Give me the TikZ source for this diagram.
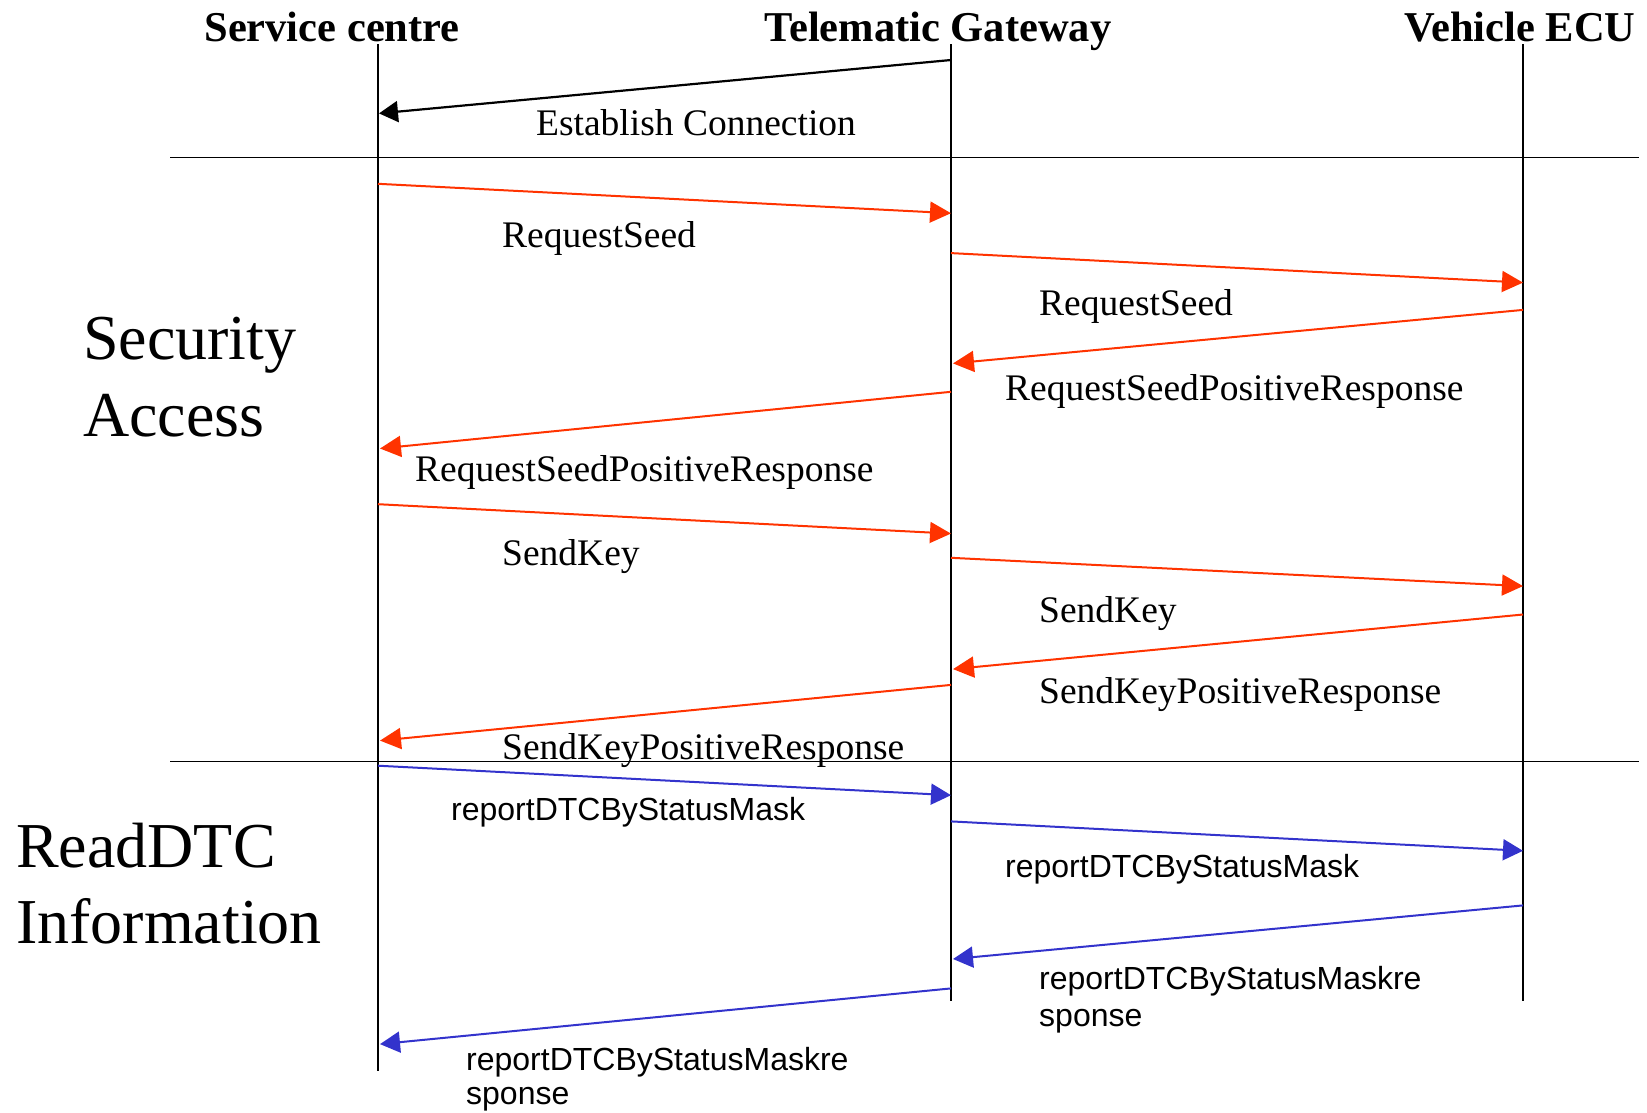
\documentclass[tikz,border=0pt]{standalone}
\usepackage{fontspec}
\setmainfont{Liberation Serif}
\newfontfamily\arialfont{Liberation Sans}
\usetikzlibrary{arrows.meta}
\definecolor{msgred}{HTML}{FF3300}
\definecolor{msgblue}{HTML}{3333CC}
\begin{document}
\begin{tikzpicture}[x=1pt,y=-1pt,
  lifeline/.style={line width=1.5pt,black},
  sepline/.style={line width=1.6pt,black},
  msgblack/.style={line width=2.2pt,black,-{Triangle[length=19pt,width=21pt]}},
  msgr/.style={line width=2pt,msgred,-{Triangle[length=21pt,width=21pt]}},
  msgb/.style={line width=2pt,msgblue,-{Triangle[length=20pt,width=21pt]}},
  header/.style={anchor=base,inner sep=0pt,font=\fontsize{42.5}{48}\selectfont\bfseries},
  lbl/.style={anchor=base west,inner sep=0pt,font=\fontsize{37.5}{44}\selectfont},
  slbl/.style={anchor=base west,inner sep=0pt,font=\arialfont\fontsize{32}{37}\selectfont},
  section/.style={anchor=base west,inner sep=0pt,font=\fontsize{64}{72}\selectfont}
]
\useasboundingbox (0,0) rectangle (1647,1112);
% headers
\node[header] (hsc) at (332,41) {Service centre};
\node[header] (htg) at (938,41) {Telematic Gateway};
\node[header] (hve) at (1520,41) {Vehicle ECU};
% lifelines
\coordinate (sctop) at (378,44);
\coordinate (scbot) at (378,1071);
\coordinate (tgtop) at (951,44);
\coordinate (tgbot) at (951,1001);
\coordinate (vetop) at (1523,44);
\coordinate (vebot) at (1523,1001);
\draw[lifeline] (sctop) -- (scbot);
\draw[lifeline] (tgtop) -- (tgbot);
\draw[lifeline] (vetop) -- (vebot);
% separators
\coordinate (s1l) at (170,157.5);
\coordinate (s1r) at (1639,157.5);
\coordinate (s2l) at (170,761.5);
\coordinate (s2r) at (1639,761.5);
\draw[sepline] (s1l) -- (s1r);
\draw[sepline] (s2l) -- (s2r);
% section labels
\node[section] (sec1a) at (83,359) {Security};
\node[section] (sec1b) at (83,436) {Access};
\node[section] (sec2a) at (16,867) {ReadDTC};
\node[section] (sec2b) at (16,943) {Information};
% establish connection
\coordinate (e0) at (951,60);
\coordinate (e1) at (379,113.4);
\draw[msgblack] (e0) -- (e1);
\node[lbl,anchor=base] (le) at (696,135) {Establish Connection};
% red messages
\coordinate (m1a) at (378,183.8);  \coordinate (m1b) at (951,213.2);
\coordinate (m2a) at (951,253.1);  \coordinate (m2b) at (1523,282.6);
\coordinate (m3a) at (1523,309.9); \coordinate (m3b) at (953,363.4);
\coordinate (m4a) at (951,391.8);  \coordinate (m4b) at (380,448.5);
\coordinate (m5a) at (378,504.2);  \coordinate (m5b) at (951,533.6);
\coordinate (m6a) at (951,557.8);  \coordinate (m6b) at (1523,586.1);
\coordinate (m7a) at (1523,614.5); \coordinate (m7b) at (953,669.1);
\coordinate (m8a) at (951,684.9);  \coordinate (m8b) at (380,740.6);
\draw[msgr] (m1a) -- (m1b);
\draw[msgr] (m2a) -- (m2b);
\draw[msgr] (m3a) -- (m3b);
\draw[msgr] (m4a) -- (m4b);
\draw[msgr] (m5a) -- (m5b);
\draw[msgr] (m6a) -- (m6b);
\draw[msgr] (m7a) -- (m7b);
\draw[msgr] (m8a) -- (m8b);
\node[lbl] (l1) at (502,247) {RequestSeed};
\node[lbl] (l2) at (1039,315) {RequestSeed};
\node[lbl] (l3) at (1005,400) {RequestSeedPositiveResponse};
\node[lbl] (l4) at (415,481) {RequestSeedPositiveResponse};
\node[lbl] (l5) at (502,565) {SendKey};
\node[lbl] (l6) at (1039,622) {SendKey};
\node[lbl] (l7) at (1039,703) {SendKeyPositiveResponse};
\node[lbl] (l8) at (502,759) {SendKeyPositiveResponse};
% blue messages
\coordinate (b1a) at (378,765.7);  \coordinate (b1b) at (951,795.2);
\coordinate (b2a) at (951,821.4);  \coordinate (b2b) at (1523,850.8);
\coordinate (b3a) at (1523,905.4); \coordinate (b3b) at (953,959.0);
\coordinate (b4a) at (951,988.4);  \coordinate (b4b) at (380,1044.1);
\draw[msgb] (b1a) -- (b1b);
\draw[msgb] (b2a) -- (b2b);
\draw[msgb] (b3a) -- (b3b);
\draw[msgb] (b4a) -- (b4b);
\node[slbl] (lb1) at (451,820) {reportDTCByStatusMask};
\node[slbl] (lb2) at (1005,877) {reportDTCByStatusMask};
\node[slbl] (lb3a) at (1039,989) {reportDTCByStatusMaskre};
\node[slbl] (lb3b) at (1039,1026) {sponse};
\node[slbl] (lb4a) at (466,1070) {reportDTCByStatusMaskre};
\node[slbl] (lb4b) at (466,1104) {sponse};
\end{tikzpicture}
\end{document}
